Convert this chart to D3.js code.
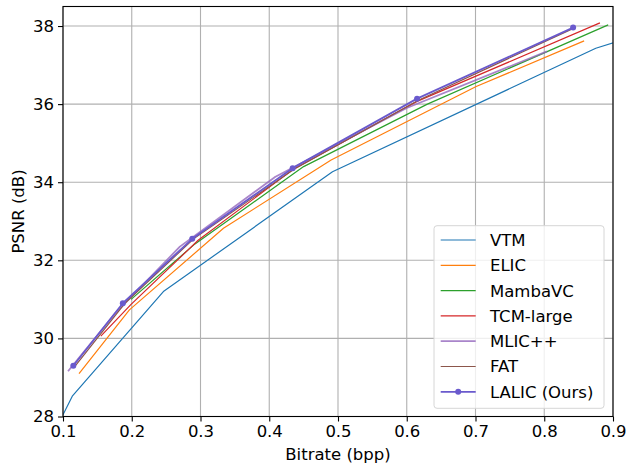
<!DOCTYPE html>
<html>
<head>
<meta charset="utf-8">
<script src="https://cdn.jsdelivr.net/npm/d3@7"></script>
<style>
  body { margin: 0; background: #fff; }
  text { font-family: "DejaVu Sans", sans-serif; fill: #000; }
</style>
</head>
<body>
<div id="chart"></div>
<script>
// rate-distortion points, [bpp, psnr]
const vtm    = [[0.095, 27.87], [0.1135, 28.52], [0.246, 31.2], [0.492, 34.27], [0.875, 37.43], [0.95, 37.85]];
const elic   = [[0.1233, 29.10], [0.1966, 30.73], [0.3334, 32.82], [0.49, 34.57], [0.701, 36.45], [0.858, 37.62]];
const mamba  = [[0.199, 31.0], [0.292, 32.42], [0.45, 34.4], [0.63, 36.0], [0.893, 38.03]];
const tcm    = [[0.155, 30.06], [0.199, 30.87], [0.297, 32.52], [0.435, 34.33], [0.615, 36.07], [0.881, 38.08]];
const mlic   = [[0.1073, 29.16], [0.176, 30.64], [0.27, 32.35], [0.409, 34.14], [0.6, 35.9], [0.804, 37.35]];
const fat    = [[0.117, 29.28], [0.19, 30.9], [0.29, 32.55], [0.436, 34.33], [0.617, 36.1], [0.84, 37.92]];
const lalic  = [[0.115, 29.30], [0.187, 30.90], [0.288, 32.55], [0.434, 34.36], [0.615, 36.14], [0.842, 37.96]];

const names  = ["VTM", "ELIC", "MambaVC", "TCM-large", "MLIC++", "FAT", "LALIC (Ours)"];
const xTicks = [0.1, 0.2, 0.3, 0.4, 0.5, 0.6, 0.7, 0.8, 0.9];
const yTicks = [28, 30, 32, 34, 36, 38];

const series = [
  {name: names[0], data: vtm,   color: "#1f77b4", w: 1.2},
  {name: names[1], data: elic,  color: "#ff7f0e", w: 1.2},
  {name: names[2], data: mamba, color: "#2ca02c", w: 1.2},
  {name: names[3], data: tcm,   color: "#d62728", w: 1.2},
  {name: names[4], data: mlic,  color: "#9467bd", w: 1.8, op: 0.8},
  {name: names[5], data: fat,   color: "#8c564b", w: 1.2},
  {name: names[6], data: lalic, color: "#6a5acd", w: 1.8, marker: true}
];

const W = 626, H = 465;
const m = {left: 63, right: 13, top: 6.5, bottom: 48.5};

const svg = d3.select("#chart").append("svg")
  .attr("width", W).attr("height", H);

const x = d3.scaleLinear().domain([0.1, 0.9]).range([m.left, W - m.right]);
const y = d3.scaleLinear().domain([28, 38.5]).range([H - m.bottom, m.top]);

// grid
svg.append("g").selectAll("line").data(xTicks).join("line")
  .attr("x1", d => x(d)).attr("x2", d => x(d))
  .attr("y1", m.top).attr("y2", H - m.bottom)
  .attr("stroke", "#b0b0b0").attr("stroke-width", 1.1);
svg.append("g").selectAll("line").data(yTicks).join("line")
  .attr("y1", d => y(d)).attr("y2", d => y(d))
  .attr("x1", m.left).attr("x2", W - m.right)
  .attr("stroke", "#b0b0b0").attr("stroke-width", 1.1);

svg.append("clipPath").attr("id", "clip").append("rect")
  .attr("x", m.left).attr("y", m.top)
  .attr("width", W - m.left - m.right).attr("height", H - m.top - m.bottom);

const line = d3.line().x(d => x(d[0])).y(d => y(d[1]));

const plot = svg.append("g").attr("clip-path", "url(#clip)");
series.forEach(s => {
  plot.append("path")
    .attr("d", line(s.data))
    .attr("fill", "none")
    .attr("stroke", s.color)
    .attr("stroke-width", s.w)
    .attr("stroke-opacity", s.op || 1)
    .attr("stroke-linejoin", "round");
  if (s.marker) {
    plot.selectAll(null).data(s.data).join("circle")
      .attr("cx", d => x(d[0])).attr("cy", d => y(d[1]))
      .attr("r", 3).attr("fill", s.color);
  }
});

// axes
const xAxis = svg.append("g")
  .attr("transform", `translate(0,${H - m.bottom})`)
  .call(d3.axisBottom(x).tickValues(xTicks).tickFormat(d3.format(".1f")).tickSizeOuter(0).tickSize(5).tickPadding(4));
const yAxis = svg.append("g")
  .attr("transform", `translate(${m.left},0)`)
  .call(d3.axisLeft(y).tickValues(yTicks).tickSizeOuter(0).tickSize(5).tickPadding(4));
[xAxis, yAxis].forEach(a => {
  a.select(".domain").remove();
  a.selectAll(".tick line").attr("stroke", "#000").attr("stroke-width", 1.1);
  a.selectAll("text").attr("font-size", 16.5).attr("font-family", "DejaVu Sans");
});

// frame
svg.append("rect")
  .attr("x", m.left).attr("y", m.top)
  .attr("width", W - m.left - m.right).attr("height", H - m.top - m.bottom)
  .attr("fill", "none").attr("stroke", "#000").attr("stroke-width", 1.1);

svg.append("text")
  .attr("x", (m.left + W - m.right) / 2).attr("y", 460)
  .attr("text-anchor", "middle").attr("font-size", 16.5)
  .text("Bitrate (bpp)");
svg.append("text")
  .attr("transform", `translate(24,${(m.top + H - m.bottom) / 2}) rotate(-90)`)
  .attr("text-anchor", "middle").attr("font-size", 16.5)
  .text("PSNR (dB)");

// legend
const lg = svg.append("g").attr("transform", "translate(434,225.7)");
lg.append("rect")
  .attr("width", 170).attr("height", 182.6).attr("rx", 3)
  .attr("fill", "#fff").attr("fill-opacity", 0.8)
  .attr("stroke", "#d6d6d6").attr("stroke-width", 1);
series.forEach((s, i) => {
  const row = lg.append("g").attr("transform", `translate(0,${14.3 + i * 25.3})`);
  row.append("line")
    .attr("x1", 6.7).attr("x2", 41.7)
    .attr("stroke", s.color).attr("stroke-width", s.w).attr("stroke-opacity", s.op || 1);
  if (s.marker) row.append("circle").attr("cx", 24.2).attr("r", 3).attr("fill", s.color);
  row.append("text")
    .attr("x", 56).attr("dy", "0.36em")
    .attr("font-size", 16.5)
    .text(s.name);
});
</script>
</body>
</html>
